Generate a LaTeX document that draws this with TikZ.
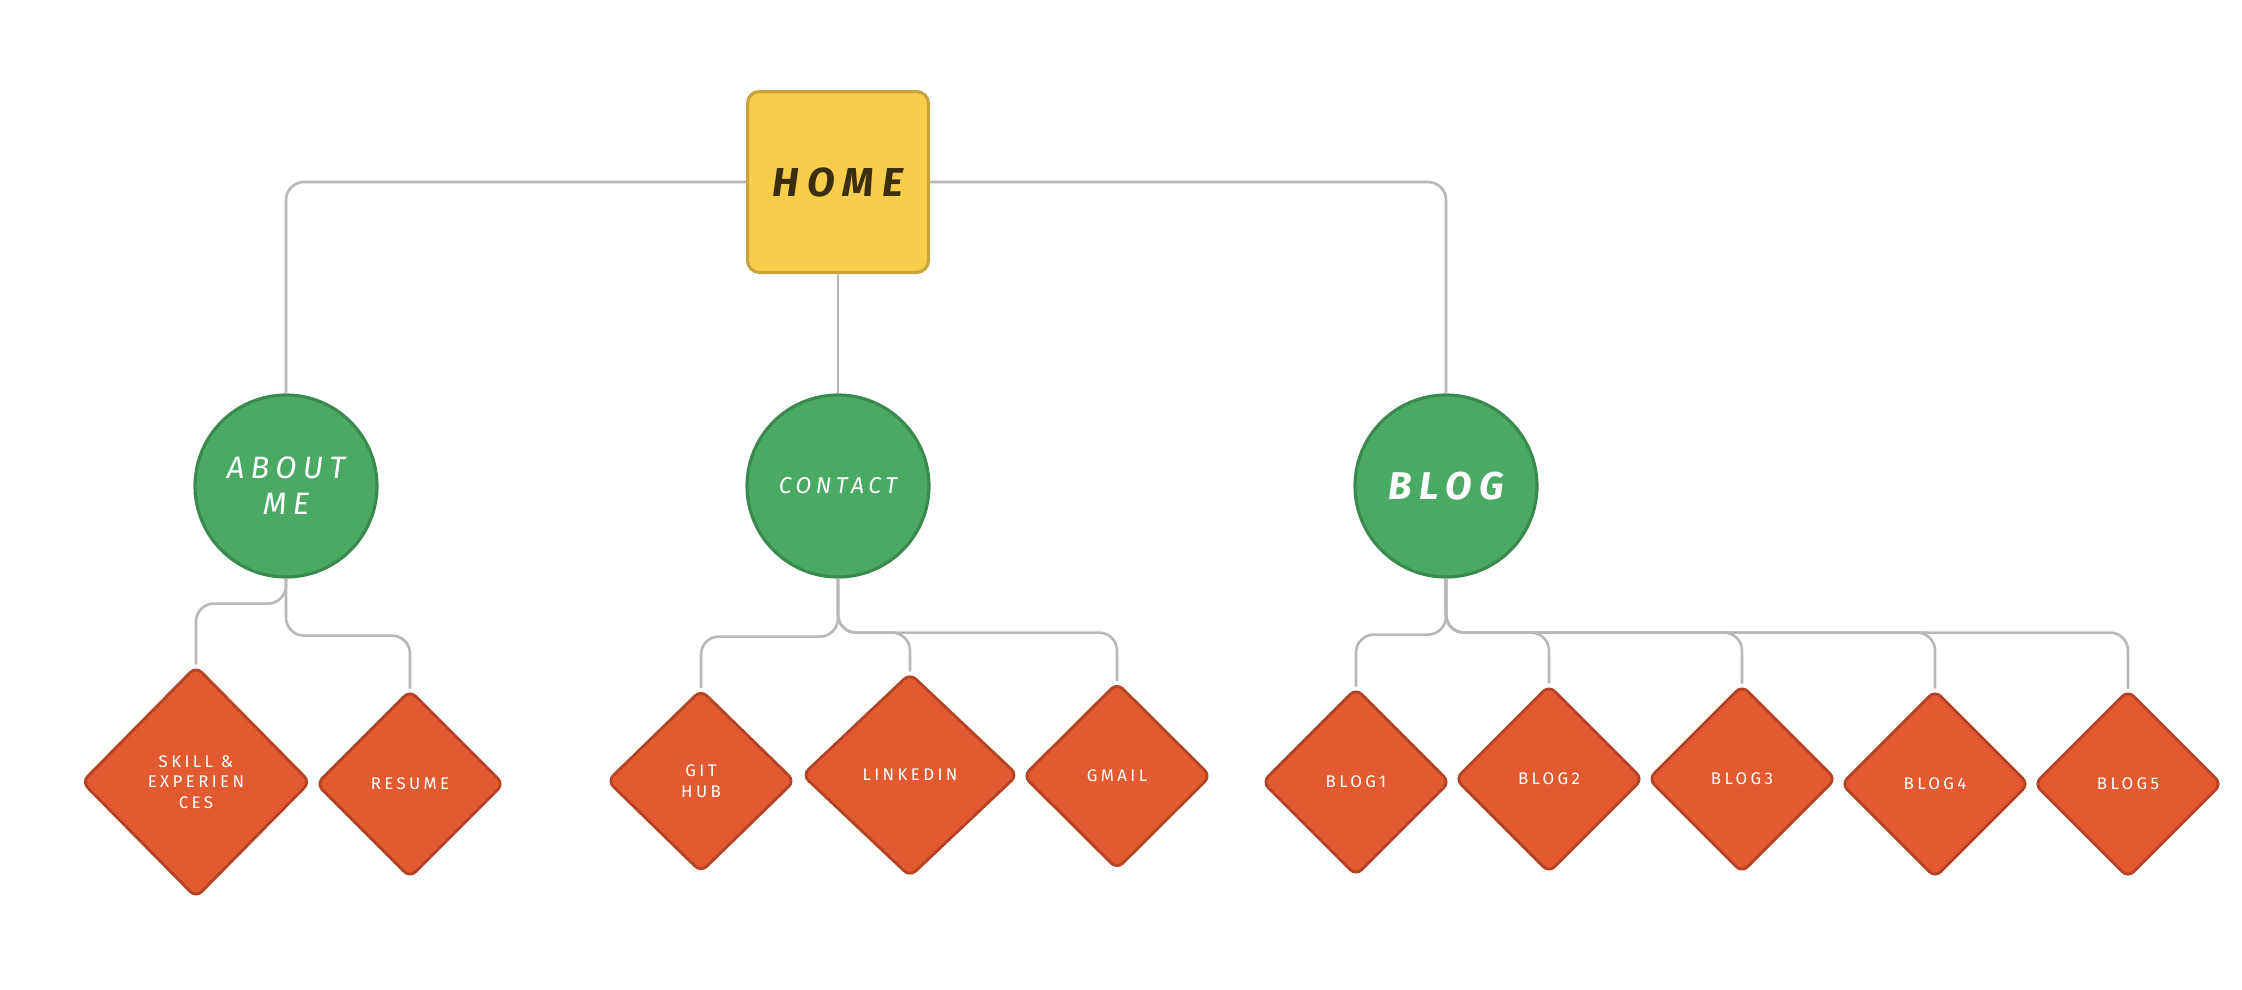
\documentclass[tikz,border=0pt]{standalone}
\usepackage{fontspec}
\usepackage{xcolor}
\usepackage{tikz}
\usetikzlibrary{shapes.geometric, positioning}

\newfontfamily\handfont[LetterSpace=20]{Fira Sans}

\definecolor{homefill}{HTML}{F7CD4B}
\definecolor{homeline}{HTML}{C9A43C}
\definecolor{hometext}{HTML}{3A2E0E}
\definecolor{topicfill}{HTML}{4AAA63}
\definecolor{topicline}{HTML}{3A8A4F}
\definecolor{leaffill}{HTML}{E25A30}
\definecolor{leafline}{HTML}{B44323}
\definecolor{linkgray}{HTML}{B8B8B8}

\tikzset{
  homebox/.style={draw=homeline, fill=homefill, line width=0.9pt, rounded corners=1.2mm,
    minimum size=18.1mm, inner sep=0pt, text=hometext,
    font=\handfont\bfseries\itshape\fontsize{11.5}{13}\selectfont},
  topic/.style={circle, draw=topicline, fill=topicfill, line width=0.9pt,
    minimum size=18.2mm, inner sep=0pt, text=white, align=center},
  leaf/.style={diamond, draw=leafline, fill=leaffill, line width=0.8pt, rounded corners=0.8mm,
    minimum width=18.8mm, minimum height=18.8mm, inner sep=0pt, text=white, align=center,
    font=\handfont\fontsize{4.8}{5.9}\selectfont},
  link/.style={draw=linkgray, line width=0.75pt, rounded corners=1.8mm},
}

\begin{document}
\begin{tikzpicture}

    % =================================================================
    % 1. KHUNG TRANH
    % =================================================================
    \useasboundingbox (0,0) rectangle (22.42,-9.90);

    % =================================================================
    % 2. CAC NUT CHINH
    % =================================================================
    \node[homebox] (home) at (8.38,-1.82) {HOME};

    \node[topic, font=\handfont\itshape\fontsize{8.8}{10.2}\selectfont] (about) at (2.86,-4.86) {ABOUT\\ME};
    \node[topic, font=\handfont\itshape\fontsize{6.5}{7.5}\selectfont] (contact) at (8.38,-4.86) {CONTACT};
    \node[topic, font=\handfont\bfseries\itshape\fontsize{11}{13}\selectfont] (blog) at (14.46,-4.86) {BLOG};

    % =================================================================
    % 3. CAC NUT LA (HINH THOI)
    % =================================================================
    \node[leaf, minimum width=22.9mm, minimum height=23.2mm] (skill) at (1.96,-7.82) {SKILL \&\\EXPERIEN\\CES};
    \node[leaf] (resume) at (4.10,-7.84) {RESUME};

    \node[leaf, minimum height=18.3mm] (github) at (7.01,-7.81) {GIT\\HUB};
    \node[leaf, minimum width=21.6mm, minimum height=20.4mm] (linkedin) at (9.10,-7.75) {LINKEDIN};
    \node[leaf, minimum height=18.7mm] (gmail) at (11.17,-7.76) {GMAIL};

    \node[leaf] (blog1) at (13.56,-7.82) {BLOG1};
    \node[leaf] (blog2) at (15.49,-7.79) {BLOG2};
    \node[leaf] (blog3) at (17.42,-7.79) {BLOG3};
    \node[leaf] (blog4) at (19.35,-7.84) {BLOG4};
    \node[leaf] (blog5) at (21.28,-7.84) {BLOG5};

    % =================================================================
    % 4. DUONG NOI
    % =================================================================
    % Tang tren
    \draw[link] (home.west) -| (about.north);
    \draw[link] (home.east) -| (blog.north);
    \draw[link] (home.south) -- (contact.north);

    % Nhanh About me
    \draw[link] (about.south) -- ++(0,-0.25) -| (skill.north);
    \draw[link] (about.south) -- ++(0,-0.57) -| (resume.north);

    % Nhanh Contact
    \draw[link] (contact.south) -- ++(0,-0.58) -| (github.north);
    \foreach \n in {linkedin, gmail}
        \draw[link] (contact.south) -- ++(0,-0.54) -| (\n.north);

    % Nhanh Blog
    \draw[link] (blog.south) -- ++(0,-0.56) -| (blog1.north);
    \foreach \i in {2,...,5}
        \draw[link] (blog.south) -- ++(0,-0.54) -| (blog\i.north);

\end{tikzpicture}
\end{document}
